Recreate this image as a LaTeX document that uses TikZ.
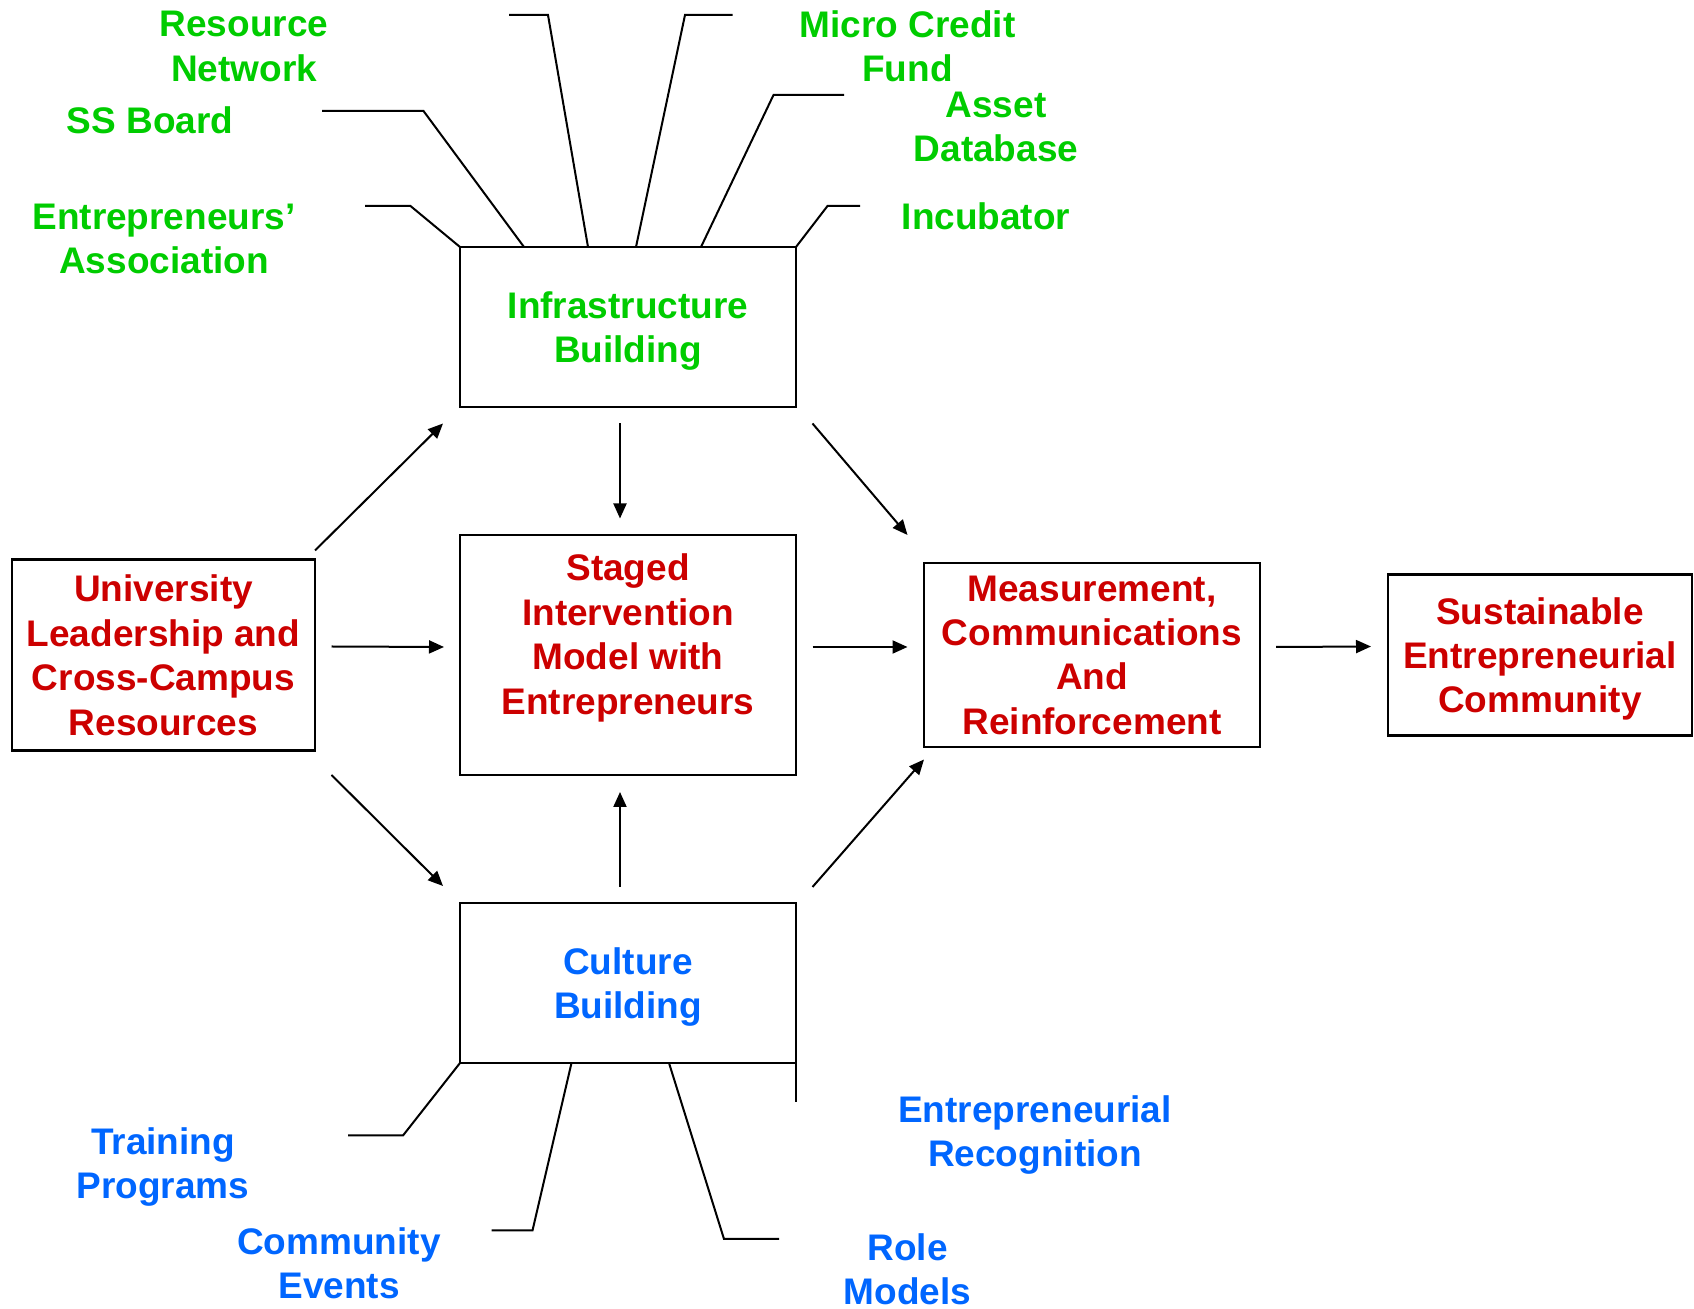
\documentclass[tikz,border=0pt]{standalone}
\usepackage{fontspec}
\setmainfont{Liberation Sans}
\usepackage{tikz}
\usetikzlibrary{arrows.meta,positioning}
\definecolor{infragreen}{RGB}{0,204,0}
\definecolor{corered}{RGB}{204,0,0}
\definecolor{cultureblue}{RGB}{0,102,255}
\newcommand{\diagfont}{\fontsize{18.5}{22.2}\selectfont\bfseries}
\tikzset{
    block/.style={draw, line width=1.2pt, minimum width=168pt, minimum height=80pt, align=center, inner sep=0pt, outer sep=0pt, text depth=0pt, font=\diagfont},
    flow/.style={-{Triangle[length=7.5pt, width=6.5pt]}, line width=1pt},
    leader/.style={line width=1pt},
    greenlab/.style={text=infragreen, font=\diagfont, align=center, inner sep=0pt},
    redlab/.style={text=corered, font=\diagfont, align=center, inner sep=0pt},
    bluelab/.style={text=cultureblue, font=\diagfont, align=center, inner sep=0pt}
}

\begin{document}
\begin{tikzpicture}[x=0.5pt, y=-0.5pt, node distance=64pt]
    \useasboundingbox (0,0) rectangle (1694,1309);
    % the five core boxes
    \node[block, minimum height=120pt] (staged) at (628,655) {};
    \node[redlab] (staged-text) at ([shift={(0,-17)}]staged.center) {Staged\\Intervention\\Model with\\Entrepreneurs};
    \node[block, text=infragreen, above=of staged] (infra) {Infrastructure\\Building};
    \node[block, text=cultureblue, below=of staged] (culture) {Culture\\Building};
    \node[block, text=corered, minimum width=151.5pt, minimum height=95.5pt, left=72.5pt of staged] (univ) {University\\Leadership and\\Cross-Campus\\Resources};
    \node[block, text=corered, minimum height=92pt, right=of staged] (meas) {Measurement,\\Communications\\And\\Reinforcement};
    \node[block, text=corered, minimum width=152pt, minimum height=80.5pt, right=of meas] (sust) {Sustainable\\Entrepreneurial\\Community};

    % flows
    \draw[flow] ([shift={(0,-9)}]univ.north east) -- ([shift={(-17,16.5)}]infra.south west);
    \draw[flow] ([shift={(16.5,-8.5)}]univ.east) -- ([shift={(-16,-8)}]staged.west);
    \draw[flow] ([shift={(16.5,24.5)}]univ.south east) -- ([shift={(-17,-17)}]culture.north west);
    \draw[flow] ([shift={(-8,16.5)}]infra.south) -- ([shift={(-8,-16.5)}]staged.north);
    \draw[flow] ([shift={(-8,-16)}]culture.north) -- ([shift={(-8,17)}]staged.south);
    \draw[flow] ([shift={(16.5,16.5)}]infra.south east) -- ([shift={(-16.5,-28)}]meas.north west);
    \draw[flow] ([shift={(16.5,-8)}]staged.east) -- ([shift={(-16.5,-8)}]meas.west);
    \draw[flow] ([shift={(16.5,-16)}]culture.north east) -- ([shift={(0,12.5)}]meas.south west);
    \draw[flow] ([shift={(16,-8)}]meas.east) -- ([shift={(-17,-8.5)}]sust.west);

    % infrastructure parts
    \node[greenlab] (assoc) at (164,239) {Entrepreneurs’\\Association};
    \node[greenlab] (board) at (150,120) {SS Board};
    \node[greenlab] (network) at (244,46.5) {Resource\\Network};
    \node[greenlab] (credit) at (907.5,46.5) {Micro Credit\\Fund};
    \node[greenlab] (asset) at (996,127) {Asset\\Database};
    \node[greenlab] (incub) at (986,216) {Incubator};
    \draw[leader] (infra.north west) -- ++(-49.5,-41) -- ++(-45.5,0);
    \draw[leader] ([shift={(64,0)}]infra.north west) -- ++(-100.5,-136) -- ++(-101.5,0);
    \draw[leader] ([shift={(128,0)}]infra.north west) -- ++(-40,-232) -- ++(-39,0);
    \draw[leader] ([shift={(176,0)}]infra.north west) -- ++(49,-232) -- ++(47.5,0);
    \draw[leader] ([shift={(241,0)}]infra.north west) -- ++(72.5,-152) -- ++(70.5,0);
    \draw[leader] (infra.north east) -- ++(31.5,-41) -- ++(32.5,0);

    % culture parts
    \node[bluelab] (training) at (163,1167) {Training\\Programs};
    \node[bluelab] (events) at (339,1263) {Community\\Events};
    \node[bluelab] (roles) at (907.5,1269) {Role\\Models};
    \node[bluelab] (recog) at (1035,1135) {Entrepreneurial\\Recognition};
    \draw[leader] (culture.south west) -- ++(-57,72.5) -- ++(-55,0);
    \draw[leader] ([shift={(111.5,0)}]culture.south west) -- ++(-39,167.5) -- ++(-41,0);
    \draw[leader] ([shift={(209,0)}]culture.south west) -- ++(55,176) -- ++(55,0);
    \draw[leader] (culture.south east) -- ++(0,39);
\end{tikzpicture}
\end{document}
